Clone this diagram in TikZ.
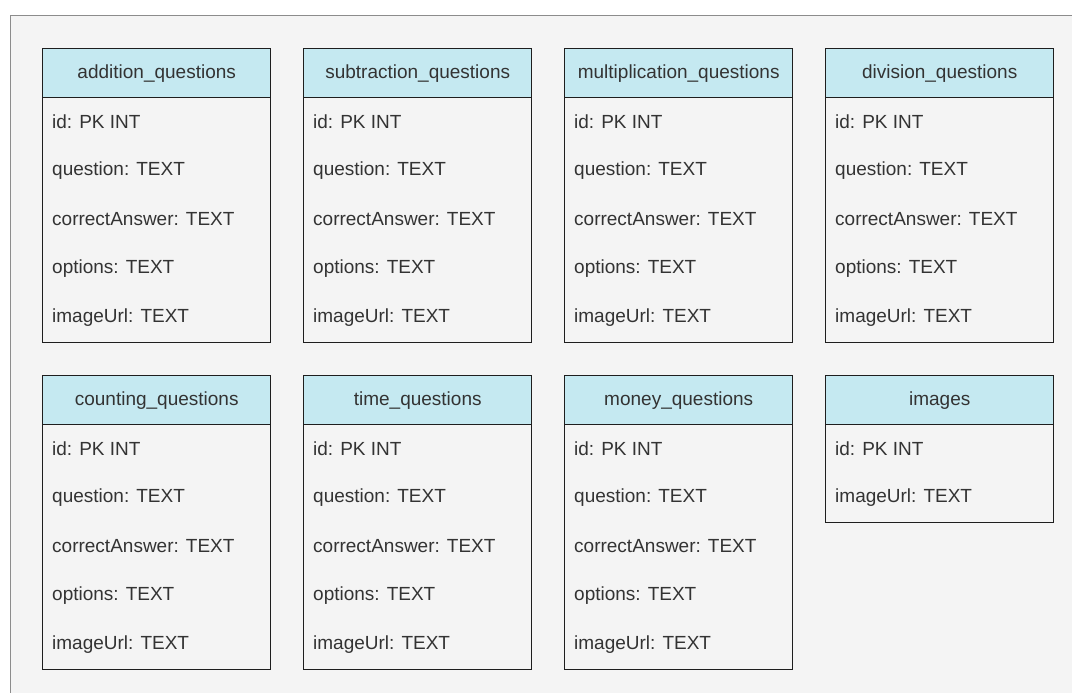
\documentclass[tikz,border=0pt]{standalone}
\usepackage{fontspec}
\setmainfont{Liberation Sans}

\definecolor{canvas}{HTML}{F4F4F4}
\definecolor{frame}{HTML}{8C8C8C}
\definecolor{headfill}{HTML}{C5E9F1}
\definecolor{ink}{HTML}{1E1E1E}
\definecolor{txt}{HTML}{333333}

\tikzset{
  tablehead/.style={draw=ink, line width=1.4pt, fill=headfill,
    minimum width=228pt, minimum height=49pt, inner sep=0pt,
    anchor=north west, text=txt, font=\fontsize{19}{22}\selectfont},
  tablebody/.style={draw=ink, line width=1.4pt, minimum width=228pt,
    inner sep=0pt, anchor=north west},
  field/.style={anchor=west, inner sep=0pt, text=txt,
    font=\fontsize{19}{22}\selectfont},
}

% entity table: name, left x, top y, title, number of fields, fields
\newcommand\erentity[6]{%
  \node[tablebody, minimum height=#5*49pt] (#1-body) at (#2,#3+49) {};
  \node[tablehead] (#1-head) at (#2,#3) {#4};
  \foreach \f [count=\i] in {#6} {
    \node[field] (#1-f\i) at (#2+10,#3+24.5+49*\i) {\f};
  }
}

\begin{document}
\begin{tikzpicture}[x=1pt,y=-1pt]
  \useasboundingbox (0,0) rectangle (1072,693);
  \path[fill=canvas, draw=frame, line width=1pt] (10.5,15.5) rectangle (1090,710);

  \erentity{add}{42}{48}{addition\_questions}{5}%
    {id: PK INT, question: TEXT, correctAnswer: TEXT, options: TEXT, imageUrl: TEXT}
  \erentity{sub}{303}{48}{subtraction\_questions}{5}%
    {id: PK INT, question: TEXT, correctAnswer: TEXT, options: TEXT, imageUrl: TEXT}
  \erentity{mul}{564}{48}{multiplication\_questions}{5}%
    {id: PK INT, question: TEXT, correctAnswer: TEXT, options: TEXT, imageUrl: TEXT}
  \erentity{div}{825}{48}{division\_questions}{5}%
    {id: PK INT, question: TEXT, correctAnswer: TEXT, options: TEXT, imageUrl: TEXT}

  \erentity{cnt}{42}{375}{counting\_questions}{5}%
    {id: PK INT, question: TEXT, correctAnswer: TEXT, options: TEXT, imageUrl: TEXT}
  \erentity{time}{303}{375}{time\_questions}{5}%
    {id: PK INT, question: TEXT, correctAnswer: TEXT, options: TEXT, imageUrl: TEXT}
  \erentity{money}{564}{375}{money\_questions}{5}%
    {id: PK INT, question: TEXT, correctAnswer: TEXT, options: TEXT, imageUrl: TEXT}
  \erentity{img}{825}{375}{images}{2}%
    {id: PK INT, imageUrl: TEXT}
\end{tikzpicture}
\end{document}
